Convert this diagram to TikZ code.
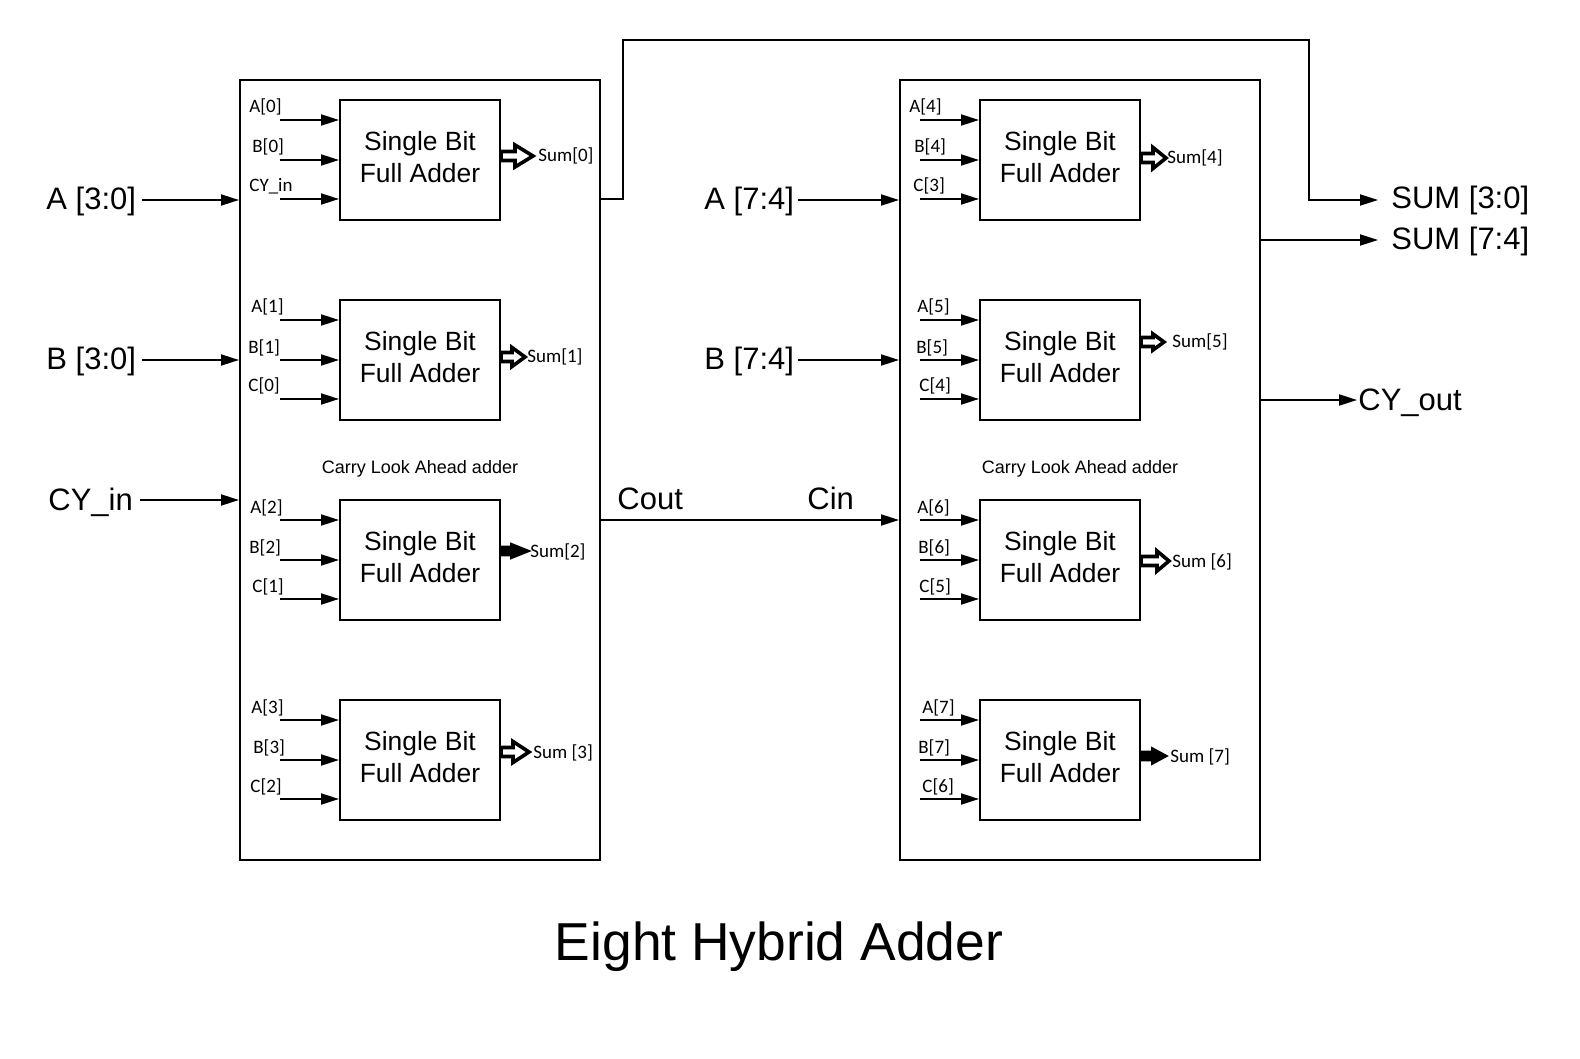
\documentclass[tikz,border=0pt]{standalone}
\usepackage{fontspec}
\setmainfont{Liberation Sans}
\newfontfamily\calfont{Carlito}
\usetikzlibrary{arrows.meta,calc}
\newcommand{\sumarr}[6]{%
  \begin{scope}[shift={(#1)}]
    \draw[line width=1.8pt,line join=miter,fill=#6] (0,-#4) -- (#2,-#4) -- (#2,-#5) -- (#3,0) -- (#2,#5) -- (#2,#4) -- (0,#4) -- cycle;
  \end{scope}}
\begin{document}
\begin{tikzpicture}[x=0.5pt,y=-0.5pt,
  wire/.style={line width=1pt},
  sig/.style={line width=1pt,-{Triangle[length=9pt,width=5.5pt]}},
  fabox/.style={draw,line width=1pt,minimum width=80pt,minimum height=60pt,inner sep=0pt,align=center,font=\fontsize{13.2}{16}\selectfont,text depth=3.5pt},
  outerbox/.style={draw,line width=1pt,minimum width=180pt,minimum height=390pt,inner sep=0pt},
  big/.style={inner sep=0pt,font=\fontsize{15.5}{18}\selectfont},
  sml/.style={inner sep=0pt,font=\calfont\fontsize{9.5}{11}\selectfont},
  mid/.style={inner sep=0pt,font=\fontsize{9}{11}\selectfont}]
\useasboundingbox (0,0) rectangle (1580,1059);

% outer boxes
\node[outerbox] (L) at (420,470) {};
\node[outerbox] (R) at (1080,470) {};

% full adder blocks
\foreach \n/\cx/\cy in {0/420/160,1/420/360,2/420/560,3/420/760,4/1060/160,5/1060/360,6/1060/560,7/1060/760}
  \node[fabox] (b\n) at (\cx,\cy) {Single Bit\\Full Adder};

% input arrows into blocks
\foreach \n/\cy/\sx in {0/160/280,1/360/280,2/560/280,3/760/280,4/160/920,5/360/920,6/560/920,7/760/920}
  \foreach \k/\dy in {a/-40,b/0,c/39} {
    \coordinate (s\n\k) at (\sx,\cy+\dy);
    \draw[sig] (s\n\k) -- (s\n\k -| b\n.west);
  }

% input labels
\foreach \n/\cy/\xa/\ta/\xb/\tb/\xc/\tc in {
 0/160/249/A[0]/252/B[0]/249/CY\_in,
 1/360/251/A[1]/248/B[1]/248/C[0],
 2/560/250/A[2]/249/B[2]/252/C[1],
 3/760/251/A[3]/253/B[3]/250/C[2],
 4/160/909/A[4]/914/B[4]/913/C[3],
 5/360/917/A[5]/916/B[5]/919/C[4],
 6/560/917/A[6]/918/B[6]/919/C[5],
 7/760/922/A[7]/918/B[7]/922/C[6]}
{
  \node[sml,anchor=base west] (la\n) at (\xa,\cy-47) {\ta};
  \node[sml,anchor=base west] (lb\n) at (\xb,\cy-7) {\tb};
  \node[sml,anchor=base west] (lc\n) at (\xc,\cy+32) {\tc};
}

% sum outputs
\sumarr{b0.east |- 0,156}{14}{32}{4.5}{11}{white}
\sumarr{b1.east |- 0,357}{11}{24}{4.5}{9.5}{white}
\sumarr{b2.east |- 0,551}{11}{26}{3.5}{6}{black}
\sumarr{b3.east |- 0,752}{12}{28}{4.5}{10.5}{white}
\sumarr{b4.east |- 0,158}{12}{25}{4.5}{10.5}{white}
\sumarr{b5.east |- 0,342}{12}{23}{4.5}{8}{white}
\sumarr{b6.east |- 0,561}{16}{28}{4.5}{10}{white}
\sumarr{b7.east |- 0,756}{12}{24}{3.5}{6.5}{black}
\node[sml,anchor=base west] (sum0) at (538,162) {Sum[0]};
\node[sml,anchor=base west] (sum1) at (527,363) {Sum[1]};
\node[sml,anchor=base west] (sum2) at (530,557) {Sum[2]};
\node[sml,anchor=base west] (sum3) at (533,758) {Sum [3]};
\node[sml,anchor=base west] (sum4) at (1167,164) {Sum[4]};
\node[sml,anchor=base west] (sum5) at (1172,348) {Sum[5]};
\node[sml,anchor=base west] (sum6) at (1172,567) {Sum [6]};
\node[sml,anchor=base west] (sum7) at (1170,762) {Sum [7]};

% carry look ahead labels
\node[mid,anchor=base] (cla1) at (420,473) {Carry Look Ahead adder};
\node[mid,anchor=base] (cla2) at (1080,473) {Carry Look Ahead adder};

% external inputs
\node[big,anchor=base west] (iA) at (46,210) {A [3:0]};
\node[big,anchor=base west] (iB) at (46,370) {B [3:0]};
\node[big,anchor=base west] (iC) at (48,510) {CY\_in};
\draw[sig,shorten <=3pt] (iA.east |- 0,200) -- (L.west |- 0,200);
\draw[sig,shorten <=3pt] (iB.east |- 0,360) -- (L.west |- 0,360);
\draw[sig,shorten <=3.5pt] (iC.east |- 0,500) -- (L.west |- 0,500);
\node[big,anchor=base west] (iA2) at (704,210) {A [7:4]};
\node[big,anchor=base west] (iB2) at (704,370) {B [7:4]};
\draw[sig,shorten <=2pt] (iA2.east |- 0,200) -- (R.west |- 0,200);
\draw[sig,shorten <=2pt] (iB2.east |- 0,360) -- (R.west |- 0,360);

% carry between stages
\draw[sig] (L.east |- 0,520) -- (R.west |- 0,520);
\node[big,anchor=base west] (cout) at (617,509) {Cout};
\node[big,anchor=base west] (cin) at (807,509) {Cin};

% outputs
\node[big,anchor=base west] (o1) at (1391,209) {SUM [3:0]};
\node[big,anchor=base west] (o2) at (1391,250) {SUM [7:4]};
\node[big,anchor=base west] (cyo) at (1358,410) {CY\_out};
\draw[sig,shorten >=6.5pt] (L.east |- 0,199) -| (623,40) -| (1309,200) -- (o1.west |- 0,200);
\draw[sig,shorten >=6.5pt] (R.east |- 0,240) -- (o2.west |- 0,240);
\draw[sig,shorten >=0.5pt] (R.east |- 0,400) -- (cyo.west |- 0,400);

% title
\node[inner sep=0pt,anchor=base,font=\fontsize{26.7}{30}\selectfont] (title) at (779,960) {Eight Hybrid Adder};
\end{tikzpicture}
\end{document}
